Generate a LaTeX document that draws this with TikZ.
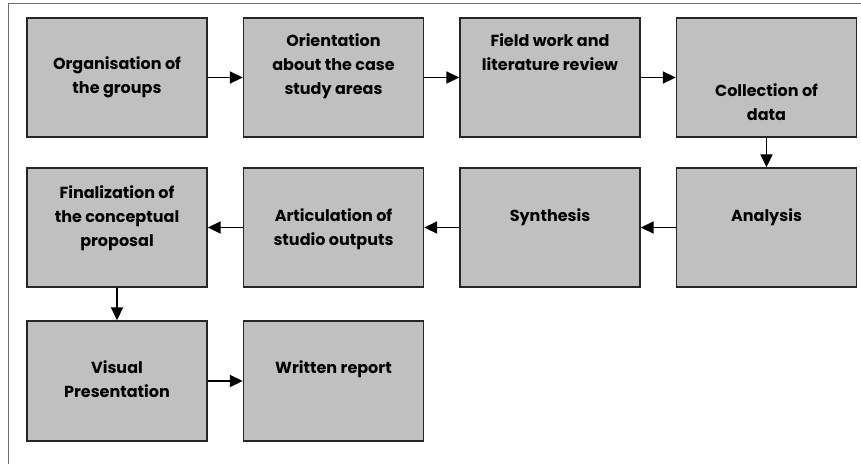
\documentclass[tikz,border=0pt]{standalone}
\usepackage{fontspec}
\setmainfont{Poppins}
\usetikzlibrary{arrows.meta}
\definecolor{boxgray}{HTML}{C0C0C0}
\definecolor{framegray}{HTML}{6E6E6E}
\tikzset{
  box/.style={draw=black!85, fill=boxgray, line width=1.4pt, minimum width=180pt, minimum height=119pt, inner sep=0pt},
  lbl/.style={font=\bfseries\fontsize{16}{24}\selectfont, align=center, inner sep=0pt, anchor=north},
  flow/.style={-{Triangle[length=13pt,width=12pt]}, line width=1.8pt}
}
\begin{document}
\begin{tikzpicture}[x=1pt,y=-1pt]
\useasboundingbox (0,0) rectangle (861,464);
% outer frame (left and top edges only)
\draw[framegray, line width=0.8pt] (8,464) -- (8,3) -- (861,3);
%%% first row
\node[box] (org) at (117,77.5) {};
\node[box] (orient) at (333.5,77.5) {};
\node[box] (field) at (550,77.5) {};
\node[box] (collect) at (766.5,77.5) {};
%%% second row
\node[box] (final) at (117,227.5) {};
\node[box] (artic) at (333.5,227.5) {};
\node[box] (synth) at (550,227.5) {};
\node[box] (anal) at (766.5,227.5) {};
%%% third row
\node[box, minimum height=120pt] (visual) at (117,381) {};
\node[box, minimum height=120pt] (written) at (333.5,381) {};
% texts
\node[lbl] (t-org) at (117,56) {Organisation of\\the groups};
\node[lbl] (t-orient) at (333.5,33) {Orientation\\about the case\\study areas};
\node[lbl] (t-field) at (550,33) {Field work and\\literature review};
\node[lbl] (t-collect) at (766.5,83) {Collection of\\data};
\node[lbl] (t-final) at (117,185) {Finalization of\\the conceptual\\proposal};
\node[lbl] (t-artic) at (333.5,208) {Articulation of\\studio outputs};
\node[lbl] (t-synth) at (550,208) {Synthesis};
\node[lbl] (t-anal) at (766.5,208) {Analysis};
\node[lbl] (t-visual) at (117,360) {Visual\\Presentation};
\node[lbl] (t-written) at (333.5,360) {Written report};
% arrows
\draw[flow] (org) -- (orient);
\draw[flow] (orient) -- (field);
\draw[flow] (field) -- (collect);
\draw[flow] (collect) -- (anal);
\draw[flow] (anal) -- (synth);
\draw[flow] (synth) -- (artic);
\draw[flow] (artic) -- (final);
\draw[flow] (final) -- (visual);
\draw[flow] (visual) -- (written);
\end{tikzpicture}
\end{document}
